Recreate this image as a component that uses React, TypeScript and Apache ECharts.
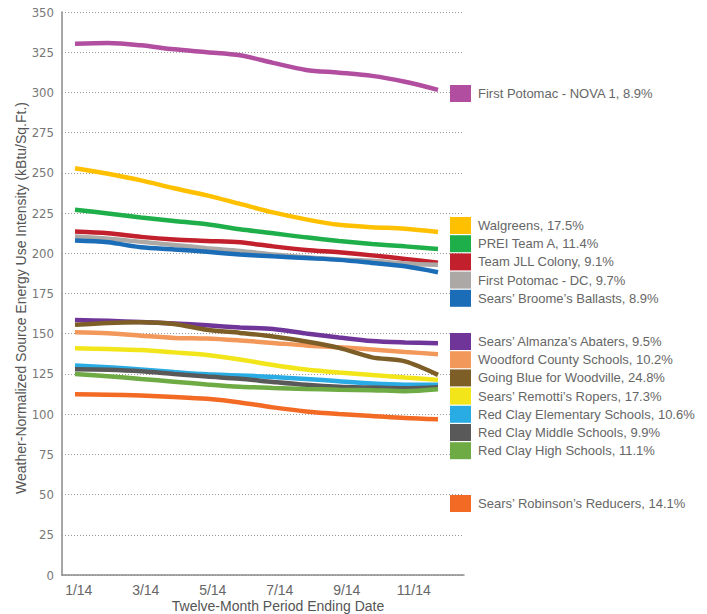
import React, { useEffect, useRef } from "react";
import * as echarts from "echarts";

const months = ["1/14", "2/14", "3/14", "4/14", "5/14", "6/14", "7/14", "8/14", "9/14", "10/14", "11/14", "12/14"];

const novaFirstPotomac = [330.2, 330.7, 329.3, 326.8, 325.0, 323.1, 318.4, 314.0, 312.3, 310.3, 306.6, 301.6];
const walgreens = [252.9, 249.4, 245.3, 240.4, 236.0, 230.7, 225.4, 221.1, 217.7, 216.2, 215.3, 213.3];
const preiTeamA = [227.0, 224.8, 222.3, 220.1, 218.0, 214.9, 212.4, 209.9, 207.7, 205.8, 204.3, 202.7];
const teamJllColony = [213.5, 212.4, 210.2, 208.6, 207.7, 206.8, 204.3, 202.1, 200.6, 198.7, 196.5, 194.2];
const firstPotomacDc = [210.4, 209.0, 207.1, 205.2, 203.2, 201.5, 199.3, 197.6, 196.2, 195.3, 193.7, 192.8];
const broomesBallasts = [207.9, 206.8, 203.7, 202.4, 200.9, 199.3, 198.1, 197.0, 195.9, 194.0, 191.9, 188.2];
const almanzasAbaters = [158.6, 158.0, 157.3, 156.4, 155.2, 153.9, 153.0, 150.2, 147.7, 145.5, 144.6, 144.1];
const woodfordSchools = [150.9, 150.3, 148.8, 147.4, 147.0, 145.8, 144.3, 142.7, 141.6, 140.2, 138.7, 137.3];
const goingBlue = [155.5, 156.7, 157.1, 156.1, 152.4, 150.5, 148.3, 145.2, 141.2, 135.3, 132.8, 124.4];
const remottisRopers = [141.0, 140.5, 139.8, 138.4, 136.8, 134.0, 130.6, 127.8, 125.9, 124.4, 122.8, 121.3];
const redClayElementary = [130.2, 129.2, 127.8, 126.2, 124.8, 124.1, 123.1, 121.9, 120.5, 119.1, 118.3, 118.2];
const redClayMiddle = [127.9, 127.6, 126.7, 125.0, 123.4, 122.0, 120.0, 118.2, 117.0, 116.5, 116.1, 116.7];
const redClayHigh = [125.0, 123.6, 121.9, 120.2, 118.5, 117.1, 116.3, 115.7, 115.2, 114.9, 114.3, 115.5];
const robinsonsReducers = [112.4, 112.1, 111.6, 110.7, 109.5, 107.3, 104.2, 101.7, 100.1, 98.9, 97.6, 96.8];

const seriesNames = [
  "First Potomac - NOVA 1, 8.9%",
  "Walgreens, 17.5%",
  "PREI Team A, 11.4%",
  "Team JLL Colony, 9.1%",
  "First Potomac - DC, 9.7%",
  "Sears’ Broome’s Ballasts, 8.9%",
  "Sears’ Almanza’s Abaters, 9.5%",
  "Woodford County Schools, 10.2%",
  "Going Blue for Woodville, 24.8%",
  "Sears’ Remotti’s Ropers, 17.3%",
  "Red Clay Elementary Schools, 10.6%",
  "Red Clay Middle Schools, 9.9%",
  "Red Clay High Schools, 11.1%",
  "Sears’ Robinson’s Reducers, 14.1%",
];

const seriesValues = [
  novaFirstPotomac, walgreens, preiTeamA, teamJllColony, firstPotomacDc, broomesBallasts,
  almanzasAbaters, woodfordSchools, goingBlue, remottisRopers, redClayElementary, redClayMiddle,
  redClayHigh, robinsonsReducers,
];

const seriesColors = [
  "#B24EA0", "#FFC000", "#1EAF4B", "#C2202D", "#ABA8A6", "#1B6DB7",
  "#6F3599", "#F3985B", "#7E5E27", "#F2E61B", "#29ACE3", "#595959",
  "#6EAB45", "#F26A24",
];

const yTicks = { min: 0, max: 350, interval: 25 };

const legendGroups = [
  { top: 85, names: seriesNames.slice(0, 1) },
  { top: 217, names: seriesNames.slice(1, 6) },
  { top: 333, names: seriesNames.slice(6, 13) },
  { top: 495, names: seriesNames.slice(13, 14) },
];

const FONT = "'Liberation Sans', Arial, sans-serif";
const NARROW = "'Liberation Sans Narrow', 'Arial Narrow', 'DejaVu Sans Condensed', sans-serif";

export default function App() {
  const ref = useRef<HTMLDivElement>(null);
  useEffect(() => {
    if (!ref.current) return;
    const chart = echarts.init(ref.current, undefined, { renderer: "svg" });
    const gridTop = 12;
    const gridBottom = 39;
    chart.setOption({
      animation: false,
      backgroundColor: "#ffffff",
      grid: [
        { left: 62, right: 243, top: gridTop, bottom: gridBottom },
        { left: 75, right: 269, top: gridTop, bottom: gridBottom },
      ],
      xAxis: [
        {
          type: "category",
          gridIndex: 0,
          data: months,
          boundaryGap: true,
          axisLine: { lineStyle: { color: "#8a8a8a", width: 1.5 } },
          axisTick: { alignWithLabel: true, interval: 0, length: 5, lineStyle: { color: "#8a8a8a" } },
          axisLabel: { interval: 1, color: "#666666", fontSize: 14, fontFamily: FONT, margin: 8 },
          splitLine: { show: false },
        },
        {
          type: "category",
          gridIndex: 1,
          data: months,
          boundaryGap: false,
          show: false,
        },
      ],
      yAxis: [
        {
          type: "value",
          gridIndex: 0,
          min: yTicks.min,
          max: yTicks.max,
          interval: yTicks.interval,
          axisLine: { show: true, lineStyle: { color: "#8a8a8a", width: 1.5 } },
          axisTick: { show: false },
          axisLabel: { color: "#777777", fontSize: 13, fontFamily: NARROW, margin: 8 },
          splitLine: { show: true, lineStyle: { color: "#9a9a9a", type: [1, 2], width: 1 } },
        },
        {
          type: "value",
          gridIndex: 1,
          min: yTicks.min,
          max: yTicks.max,
          show: false,
          splitLine: { show: false },
        },
      ],
      legend: legendGroups.map((g) => ({
        orient: "vertical",
        left: 450,
        top: g.top,
        data: g.names,
        icon: "rect",
        itemWidth: 21,
        itemHeight: 17,
        itemGap: 1.2,
        padding: 0,
        selectedMode: false,
        textStyle: { color: "#666666", fontSize: 13, fontFamily: FONT, padding: [0, 0, 0, 2] },
      })),
      series: seriesNames.map((name, i) => ({
        type: "line",
        name,
        xAxisIndex: 1,
        yAxisIndex: 1,
        data: seriesValues[i],
        smooth: 0.3,
        showSymbol: false,
        symbol: "none",
        color: seriesColors[i],
        lineStyle: { width: 4.5, color: seriesColors[i] },
        emphasis: { disabled: true },
      })),
      graphic: [
        {
          type: "text",
          x: 278,
          y: 606,
          style: {
            text: "Twelve-Month Period Ending Date",
            fill: "#555555",
            font: `14px ${FONT}`,
            textAlign: "center",
            textVerticalAlign: "middle",
          },
        },
        {
          type: "text",
          x: 21,
          y: 298,
          rotation: Math.PI / 2,
          style: {
            text: "Weather-Normalized Source Energy Use Intensity (kBtu/Sq.Ft.)",
            fill: "#555555",
            font: `14px ${FONT}`,
            textAlign: "center",
            textVerticalAlign: "middle",
          },
        },
      ],
    });
    return () => chart.dispose();
  }, []);
  return <div ref={ref} style={{ width: 707, height: 614, position: "fixed", left: 0, top: 0 }} />;
}
